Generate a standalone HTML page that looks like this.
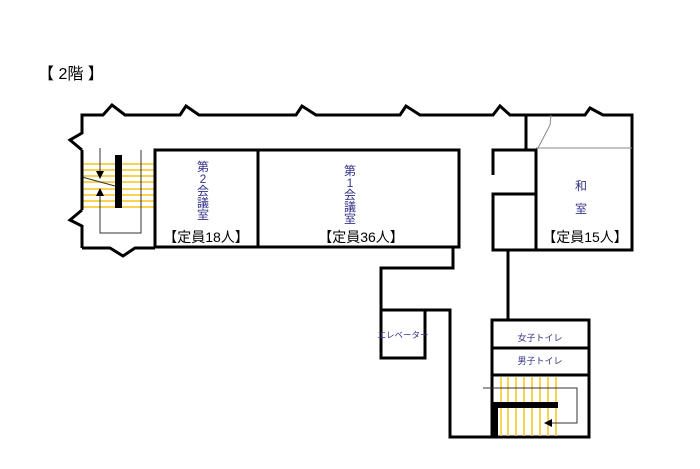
<!DOCTYPE html>
<html><head><meta charset="utf-8"><style>
html,body{margin:0;padding:0;background:#fff;}
svg{display:block;}
text{font-family:"Liberation Sans","Noto Sans CJK JP",sans-serif;}
</style></head><body>
<svg width="700" height="469" viewBox="0 0 700 469" xmlns="http://www.w3.org/2000/svg">
<text x="38" y="79" font-size="16" fill="#000">【 2階 】</text>
<g stroke="#f5c518" stroke-width="1.5">
<line x1="82" y1="164" x2="155" y2="164"/><line x1="82" y1="170" x2="155" y2="170"/>
<line x1="82" y1="176" x2="155" y2="176"/><line x1="82" y1="182" x2="155" y2="182"/>
<line x1="82" y1="189" x2="155" y2="189"/><line x1="82" y1="195" x2="155" y2="195"/>
<line x1="82" y1="201" x2="155" y2="201"/><line x1="82" y1="207" x2="155" y2="207"/>
</g>
<rect x="115" y="155" width="7" height="53" fill="#000"/>
<g stroke="#333" stroke-width="1" fill="none">
<line x1="82" y1="177" x2="115" y2="186"/>
<line x1="100" y1="148" x2="100" y2="172"/>
<polyline points="100,195 100,233 141,233 141,150"/>
</g>
<polygon points="96,171 104,171 100,179" fill="#000"/>
<polygon points="96,196 104,196 100,188" fill="#000"/>
<g stroke="#000" stroke-width="3" fill="none" stroke-linejoin="miter">
<polyline points="82,248 82,226 70,220 82,210"/>
<polyline points="82,150 70,140 82,133 82,115 103,115 112,105 125,115 180,115 186,106 199,115 296,115 302,106 316,115 400,115 406,106 420,115 493,115 500,106 510,115 525,115"/>
<polyline points="525,115 585,115 590,108 603,115 632,115 632,250 536,250"/>
<polyline points="82,248 110,248 123,256 135,248 155,248"/>
<line x1="82" y1="150" x2="82" y2="210"/>
<rect x="155" y="150" width="103" height="97"/>
<rect x="258" y="150" width="201" height="97"/>
<polyline points="453,247 453,268 381,268 381,310"/>
<rect x="381" y="310" width="44" height="48"/>
<polyline points="425,310 450,310 450,437 492,437"/>
<line x1="526" y1="115" x2="526" y2="150"/>
<polyline points="493,175 493,150 536,150 536,250 493,250 493,194 536,194"/>
<line x1="508" y1="250" x2="508" y2="320"/>
<rect x="492" y="320" width="97" height="117"/>
<line x1="492" y1="348" x2="589" y2="348"/>
<line x1="492" y1="375" x2="589" y2="375"/>
</g>
<g stroke="#888" stroke-width="1" fill="none">
<line x1="536" y1="148" x2="632" y2="148"/>
<polyline points="551,115 550,125 538,148"/>
</g>
<g stroke="#f5c518" stroke-width="1.5">
<line x1="501" y1="377" x2="501" y2="436"/><line x1="508" y1="377" x2="508" y2="436"/>
<line x1="516" y1="377" x2="516" y2="436"/><line x1="524" y1="377" x2="524" y2="436"/>
<line x1="532" y1="377" x2="532" y2="436"/><line x1="540" y1="377" x2="540" y2="436"/>
<line x1="548" y1="377" x2="548" y2="436"/><line x1="556" y1="377" x2="556" y2="436"/>
</g>
<rect x="491" y="402" width="7" height="35" fill="#000"/>
<rect x="491" y="402" width="67" height="6" fill="#000"/>
<polyline points="483,388 577,388 577,423 552,423" stroke="#333" stroke-width="1" fill="none"/>
<polygon points="544,423 552,419 552,427" fill="#000"/>
<g fill="#333388" font-size="12" text-anchor="middle">
<text x="203" y="171">第</text><text x="203" y="183">2</text><text x="203" y="195">会</text><text x="203" y="207">議</text><text x="203" y="219">室</text>
<text x="350" y="175">第</text><text x="350" y="187">1</text><text x="350" y="199">会</text><text x="350" y="211">議</text><text x="350" y="223">室</text>
<text x="581" y="190">和</text><text x="581" y="213">室</text>
<text x="540" y="341" font-size="9">女子トイレ</text>
<text x="540" y="364" font-size="9">男子トイレ</text>
<text x="403" y="338" font-size="8.5">エレベーター</text>
</g>
<g fill="#000" font-size="14" text-anchor="middle">
<text x="206" y="242">【定員18人】</text>
<text x="361" y="242">【定員36人】</text>
<text x="585" y="242">【定員15人】</text>
</g>
</svg>
</body></html>
